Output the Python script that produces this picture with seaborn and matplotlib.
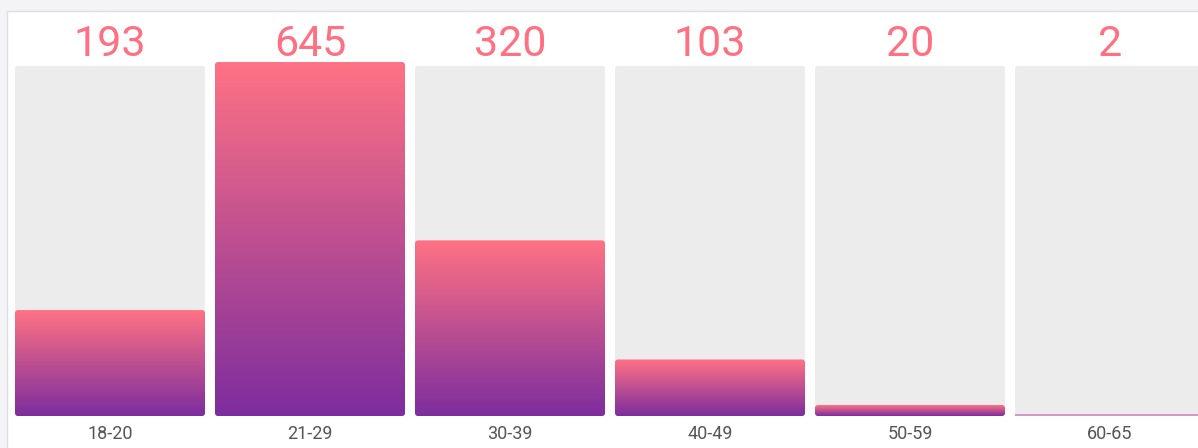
import numpy as np
import pandas as pd
import matplotlib
matplotlib.use('Agg')
import matplotlib.pyplot as plt
from matplotlib.patches import FancyBboxPatch, Rectangle
from matplotlib.colors import LinearSegmentedColormap
import seaborn as sns

# chart data
age_groups = ['18-20', '21-29', '30-39', '40-49', '50-59', '60-65']
counts = [193, 645, 320, 103, 20, 2]
track_height = 638  # gray track behind each bar

PINK = '#ff7284'
PURPLE = '#7d2d9e'
TRACK = '#ececec'

sns.set_theme(style='white')
plt.rcParams['font.family'] = ['Roboto', 'DejaVu Sans']

W, H = 1198, 448
fig = plt.figure(figsize=(W / 100, H / 100), dpi=100)

# page background + card border
fig.patches.append(Rectangle((0, 0), 1, 1, transform=fig.transFigure,
                             facecolor='#f4f4f6', edgecolor='none', zorder=-10))
fig.patches.append(Rectangle((7 / W, -0.01), 1.0, (H - 11) / H + 0.01,
                             transform=fig.transFigure, facecolor='white',
                             edgecolor='#dedde6', linewidth=1.0, zorder=-9))

ax = fig.add_axes([10 / W, 32 / H, 1200 / W, 354 / H])
ax.patch.set_alpha(0)

df = pd.DataFrame({'age': age_groups, 'count': counts})
df['track'] = track_height

sns.barplot(data=df, x='age', y='track', color=TRACK, width=0.95, ax=ax,
            saturation=1)
n_track = len(ax.patches)
sns.barplot(data=df, x='age', y='count', color=PINK, width=0.95, ax=ax,
            saturation=1)

# px -> data conversions for rounded corners
x_per_px = 1 / 200
y_per_px = max(counts) / 354
aspect = y_per_px / x_per_px
r = 3 * x_per_px

cmap = LinearSegmentedColormap.from_list('pp', [PURPLE, PINK])
grad = np.linspace(0, 1, 256).reshape(-1, 1)

for i, p in enumerate(list(ax.patches)):
    x0, w, h = p.get_x(), p.get_width(), p.get_height()
    p.set_visible(False)
    if i >= n_track and h < 3 * y_per_px:
        # bar thinner than a couple of pixels: just a faint line
        ax.add_patch(Rectangle((x0, 0), w, max(h, 1.6 * y_per_px),
                               facecolor='#d699c6', linewidth=0, zorder=2))
        continue
    rr = min(r, w / 2, (h / aspect) / 2)
    box = FancyBboxPatch((x0, 0), w, h,
                         boxstyle=f'round,pad=0,rounding_size={rr}',
                         mutation_aspect=aspect, linewidth=0)
    if i < n_track:
        box.set_facecolor(TRACK)
        box.set_zorder(1)
        ax.add_patch(box)
    else:
        box.set_facecolor('none')
        box.set_zorder(2)
        ax.add_patch(box)
        im = ax.imshow(grad, cmap=cmap, origin='lower', aspect='auto',
                       extent=[x0, x0 + w, 0, h], zorder=2)
        im.set_clip_path(box)

ax.set_xlim(-0.5, len(age_groups) - 0.5)
ax.set_ylim(0, max(counts))

for i, (lab, c) in enumerate(zip(age_groups, counts)):
    ax.text(i, max(counts) * 360 / 354, str(c), ha='center', va='baseline',
            fontsize=31, color='#ff7082', clip_on=False)
    ax.text(i, -23 * y_per_px, lab, ha='center', va='baseline',
            fontsize=13, color='#555555', clip_on=False)

ax.set_xticks([])
ax.set_yticks([])
ax.set_xlabel('')
ax.set_ylabel('')
for s in ax.spines.values():
    s.set_visible(False)

fig.savefig('out.png', dpi=100)
